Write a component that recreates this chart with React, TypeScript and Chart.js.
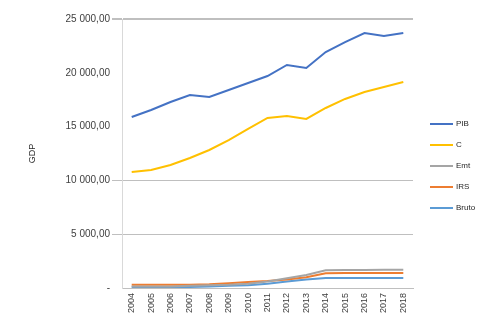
import React, { useEffect, useRef } from 'react';
import { Chart, registerables } from 'chart.js';
Chart.register(...registerables);

const years = ['2004','2005','2006','2007','2008','2009','2010','2011','2012','2013','2014','2015','2016','2017','2018'];
const seriesNames = ['PIB', 'C', 'Emt', 'IRS', 'Bruto'];
const pib = [15890, 16540, 17290, 17940, 17750, 18400, 19050, 19700, 20725, 20450, 21930, 22860, 23700, 23420, 23700];
const consumo = [10780, 10970, 11430, 12080, 12825, 13750, 14780, 15800, 15990, 15710, 16730, 17570, 18215, 18680, 19145];
const emt = [150, 150, 150, 200, 250, 300, 400, 600, 900, 1200, 1650, 1680, 1680, 1690, 1700];
const irs = [300, 300, 300, 300, 350, 450, 550, 650, 800, 1000, 1380, 1390, 1390, 1400, 1400];
const bruto = [100, 100, 100, 100, 150, 200, 250, 400, 600, 800, 930, 930, 930, 940, 940];
const colors = ['#4472C4', '#FFC000', '#A5A5A5', '#ED7D31', '#5B9BD5'];
const yTicks = [0, 5000, 10000, 15000, 20000, 25000];

const FONT = 'Liberation Sans, Arial, sans-serif';

function fmt(v: number): string {
  if (v === 0) return '-';
  const s = Math.round(v).toString().replace(/\B(?=(\d{3})+(?!\d))/g, ' ');
  return s + ',00';
}

const legendPlugin = {
  id: 'customLegend',
  afterDraw(chart: any) {
    const ctx = chart.ctx;
    ctx.save();
    ctx.font = '8px ' + FONT;
    ctx.textBaseline = 'middle';
    ctx.textAlign = 'left';
    chart.data.datasets.forEach((ds: any, i: number) => {
      const y = 124 + 21 * i;
      ctx.strokeStyle = ds.borderColor;
      ctx.lineWidth = 2;
      ctx.beginPath();
      ctx.moveTo(430, y);
      ctx.lineTo(453, y);
      ctx.stroke();
      ctx.fillStyle = '#262626';
      ctx.fillText(ds.label, 456, y);
    });
    ctx.restore();
  },
};

export default function App() {
  const ref = useRef<HTMLCanvasElement>(null);
  useEffect(() => {
    const all = [pib, consumo, emt, irs, bruto];
    const chart = new Chart(ref.current!, {
      type: 'line',
      data: {
        labels: years,
        datasets: all.map((d, i) => ({
          label: seriesNames[i],
          data: d,
          borderColor: colors[i],
          backgroundColor: colors[i],
          borderWidth: 2,
          pointRadius: 0,
          tension: 0,
        })),
      },
      options: {
        responsive: false,
        animation: false,
        layout: { padding: { left: 27, top: 19, right: 64, bottom: 0 } },
        plugins: { legend: { display: false }, tooltip: { enabled: false } },
        scales: {
          x: {
            offset: true,
            grid: { display: false, drawTicks: false },
            border: { color: '#bfbfbf' },
            ticks: { minRotation: 90, maxRotation: 90, autoSkip: false, font: { size: 9, family: FONT }, color: '#404040', padding: 5 },
            afterFit: (s: any) => { s.height = 32; },
          },
          y: {
            min: 0,
            max: 25000,
            afterBuildTicks: (s: any) => { s.ticks = yTicks.map((v) => ({ value: v })); },
            ticks: { callback: (v: any) => fmt(Number(v)), font: { size: 10, family: FONT }, color: '#404040', padding: 2 },
            grid: {
              tickLength: 10,
              color: (c: any) => {
                const v = c.tick ? c.tick.value : 0;
                if (v === 25000 || v === 10000 || v === 5000) return '#bfbfbf';
                return 'rgba(0,0,0,0)';
              },
              lineWidth: (c: any) => (c.tick && c.tick.value === 25000 ? 2 : 1),
            },
            border: { color: '#d9d9d9' },
            title: { display: true, text: 'GDP', font: { size: 9, family: FONT }, color: '#262626', padding: 0 },
            afterFit: (s: any) => { s.width = 95; },
          },
        },
      },
      plugins: [legendPlugin],
    });
    return () => chart.destroy();
  }, []);
  return (
    <div style={{ position: 'fixed', left: 0, top: 0, width: 477, height: 320, background: '#fff' }}>
      <canvas ref={ref} width={477} height={320} style={{ display: 'block' }} />
    </div>
  );
}
